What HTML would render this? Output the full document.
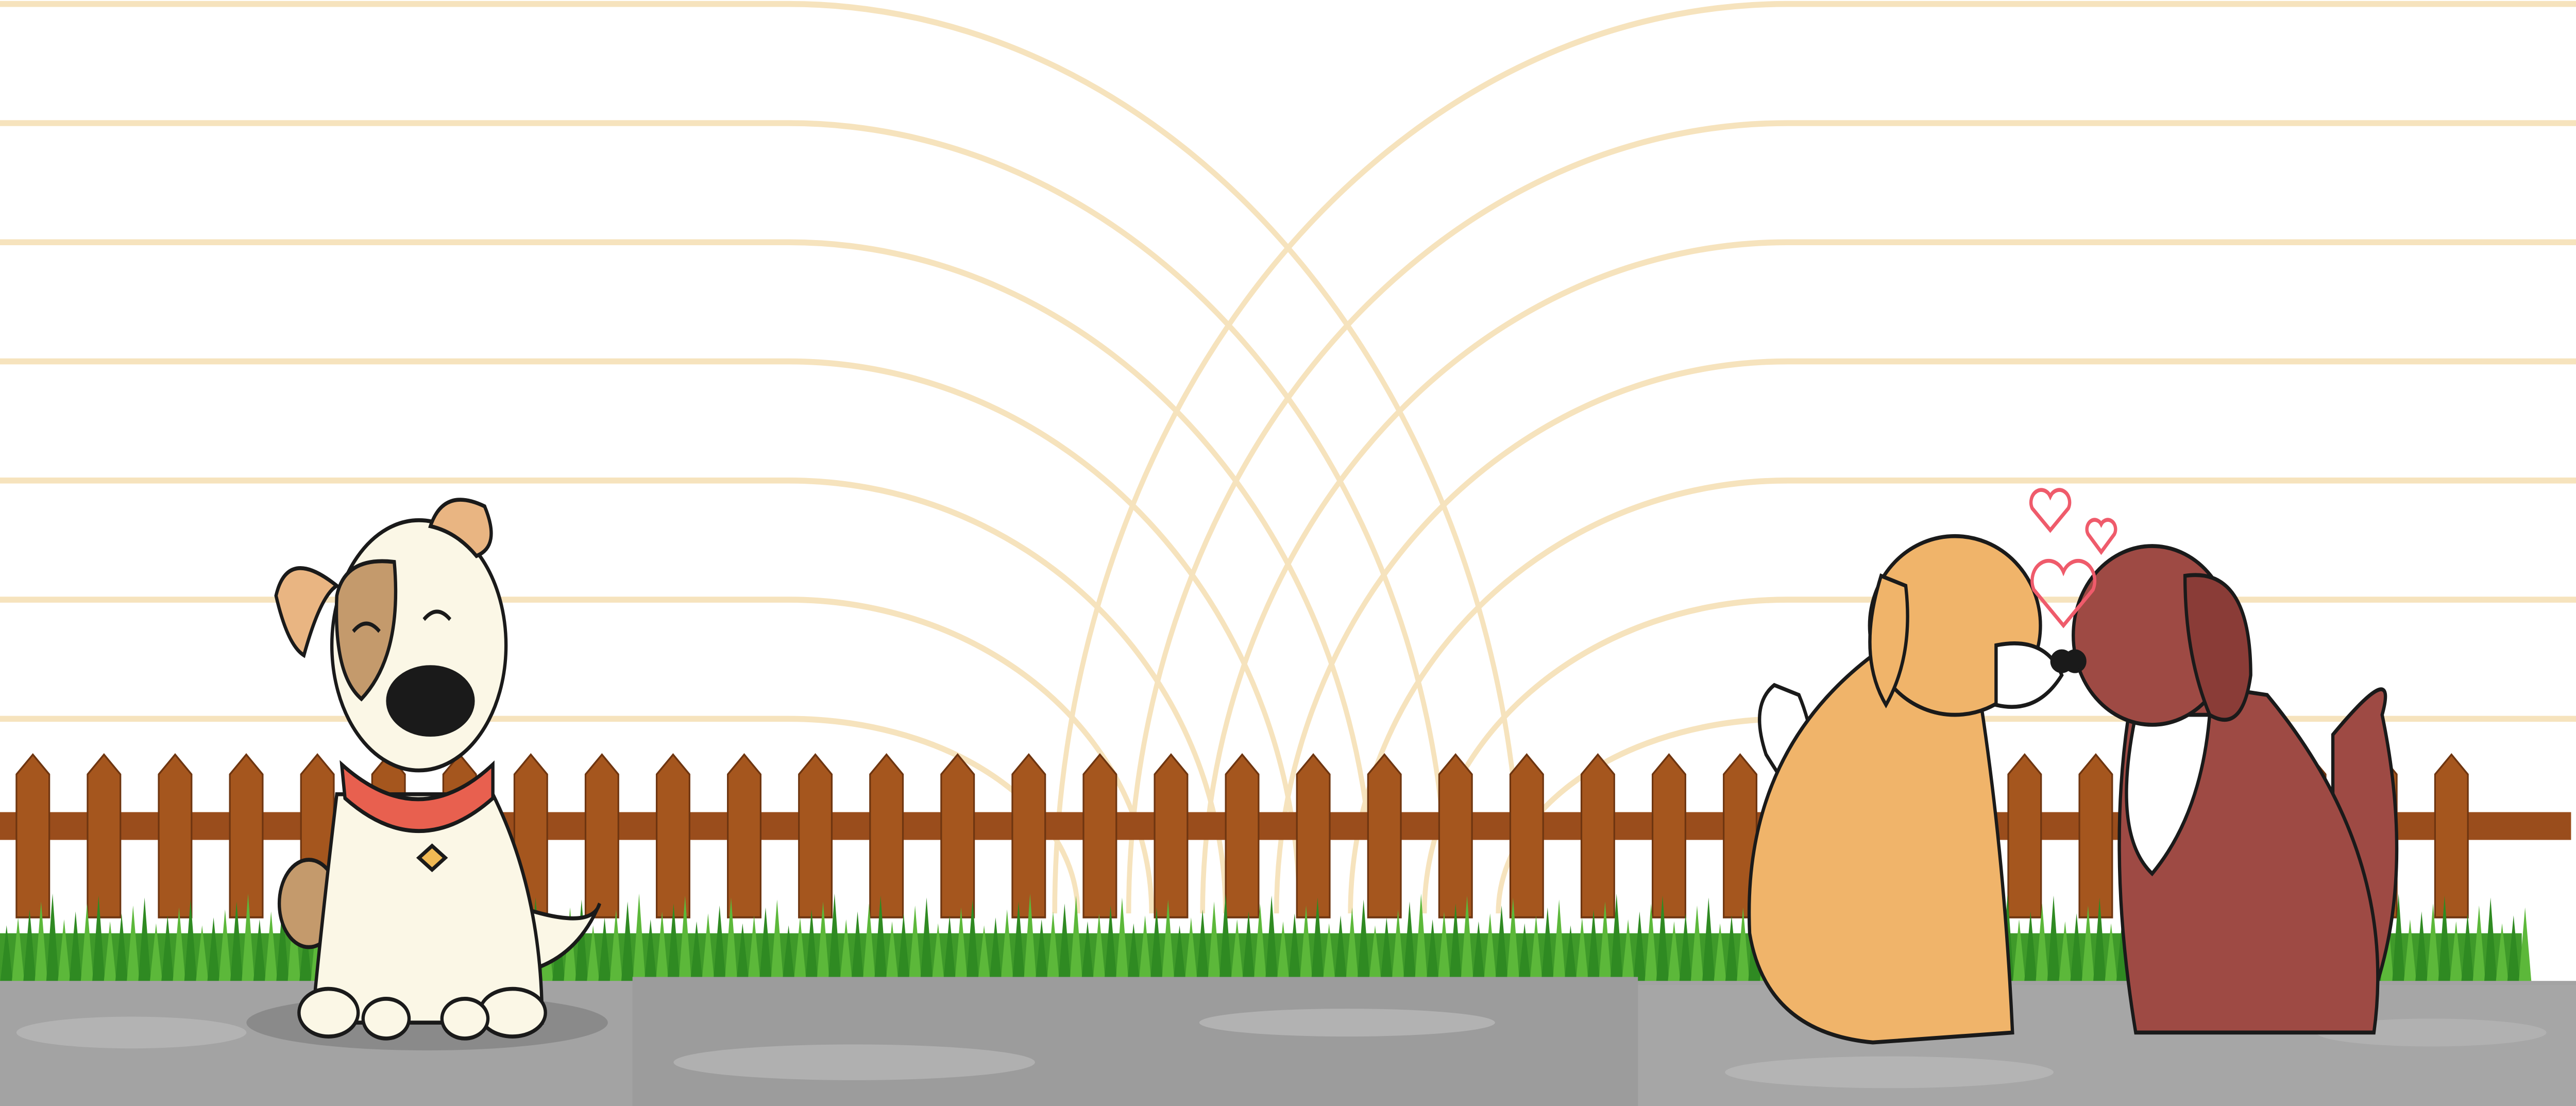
<!DOCTYPE html>
<html><head><meta charset="utf-8">
<style>
html,body{margin:0;padding:0;background:#fff;overflow:hidden;width:100%;height:100%}
svg{display:block;width:100vw;height:100vh}
</style></head>
<body>
<svg id="scene" viewBox="0 0 1568 557" preserveAspectRatio="none" xmlns="http://www.w3.org/2000/svg">
  <rect x="0" y="0" width="1568" height="557" fill="#ffffff"/>
  <g id="arcs" fill="none" stroke="#f6e3bd" stroke-width="3"></g>
  <g id="fence"></g>
  <g id="grass"></g>
  <g>
    <rect x="0" y="494" width="1568" height="63" fill="#a3a3a3"/>
    <rect x="385" y="492" width="612" height="65" fill="#9c9c9c"/>
    <rect x="997" y="496" width="571" height="61" fill="#a6a6a6"/>
    <ellipse cx="80" cy="520" rx="70" ry="8" fill="#b3b3b3"/>
    <ellipse cx="520" cy="535" rx="110" ry="9" fill="#b0b0b0"/>
    <ellipse cx="820" cy="515" rx="90" ry="7" fill="#b2b2b2"/>
    <ellipse cx="1150" cy="540" rx="100" ry="8" fill="#b4b4b4"/>
    <ellipse cx="1480" cy="520" rx="70" ry="7" fill="#b1b1b1"/>
    <ellipse cx="260" cy="515" rx="110" ry="14" fill="#8a8a8a"/>
  </g>
  <g stroke="#1a1a1a" stroke-width="2">
    <path d="M310 455 Q360 470 365 455 Q350 485 315 490 Z" fill="#fbf7e6"/>
    <ellipse cx="188" cy="455" rx="18" ry="22" fill="#c49a6c"/>
    <path d="M205 400 Q195 470 190 515 L330 515 Q330 450 300 400 Z" fill="#fbf7e6"/>
    <ellipse cx="200" cy="510" rx="18" ry="12" fill="#fbf7e6"/>
    <ellipse cx="312" cy="510" rx="20" ry="12" fill="#fbf7e6"/>
    <ellipse cx="235" cy="513" rx="14" ry="10" fill="#fbf7e6"/>
    <ellipse cx="283" cy="513" rx="14" ry="10" fill="#fbf7e6"/>
    <path d="M208 385 Q255 420 300 385 L300 402 Q255 435 210 402 Z" fill="#e8604f"/>
    <path d="M255 432 l8 -6 8 6 -8 6 Z" fill="#f0b954"/>
    <ellipse cx="255" cy="325" rx="53" ry="63" fill="#fbf7e6"/>
    <path d="M205 300 Q210 280 240 283 Q245 330 220 352 Q203 340 205 300 Z" fill="#c49a6c"/>
    <path d="M205 295 Q175 275 168 300 Q175 325 185 330 Q195 300 205 295 Z" fill="#e9b582"/>
    <path d="M262 265 Q270 245 295 255 Q305 275 290 280 Q278 268 262 265 Z" fill="#e9b582"/>
    <ellipse cx="262" cy="353" rx="26" ry="17" fill="#1a1a1a"/>
    <path d="M215 318 q8 -8 16 0 M258 312 q8 -8 16 0" fill="none"/>
  </g>
  <g stroke="#1a1a1a" stroke-width="2">
    <path d="M1080 345 Q1065 355 1075 380 Q1090 400 1100 410 Q1110 380 1095 350 Z" fill="#ffffff"/>
    <path d="M1140 330 Q1060 380 1065 470 Q1075 520 1140 525 L1225 520 Q1220 430 1205 350 Z" fill="#f0b46a"/>
    <ellipse cx="1190" cy="315" rx="52" ry="45" fill="#f0b46a"/>
    <path d="M1145 290 Q1130 330 1148 355 Q1165 330 1160 295 Z" fill="#f0b46a"/>
    <path d="M1215 325 Q1245 320 1255 340 Q1240 360 1215 355 Z" fill="#ffffff"/>
    <ellipse cx="1255" cy="333" rx="6" ry="5" fill="#1a1a1a"/>
  </g>
  <g stroke="#1a1a1a" stroke-width="2">
    <path d="M1420 370 Q1460 330 1450 360 Q1470 440 1445 500 L1420 500 Z" fill="#9e4a44"/>
    <path d="M1300 340 Q1280 420 1300 520 L1445 520 Q1460 430 1380 350 Z" fill="#9e4a44"/>
    <path d="M1300 360 Q1285 420 1310 440 Q1340 410 1345 360 Z" fill="#ffffff"/>
    <ellipse cx="1310" cy="320" rx="48" ry="45" fill="#9e4a44"/>
    <path d="M1330 290 Q1370 285 1370 340 Q1365 370 1345 360 Q1330 330 1330 290 Z" fill="#8a3c37"/>
    <ellipse cx="1263" cy="333" rx="6" ry="5" fill="#1a1a1a"/>
  </g>
  <g fill="none" stroke="#ef5b6b" stroke-width="2">
    <path d="M1256 315 l-18 -18 a8 8 0 0 1 18 -9 a8 8 0 0 1 18 9 Z"/>
    <path d="M1248 267 l-11 -11 a5 5 0 0 1 11 -6 a5 5 0 0 1 11 6 Z"/>
    <path d="M1279 278 l-8 -9 a4 4 0 0 1 8 -5 a4 4 0 0 1 8 5 Z"/>
  </g>
</svg>
<script>
const NS='http://www.w3.org/2000/svg';
const lineYs=[2,62,122,182,242,302,362];
const arcs=document.getElementById('arcs');
lineYs.forEach((y0,i)=>{
  const xs=480, rx=446-45*i, ry=460-y0;
  [0,1].forEach(side=>{
    const p=document.createElementNS(NS,'path');
    let d;
    if(side===0) d=`M0 ${y0} H${xs} A${rx} ${ry} 0 0 1 ${xs+rx} 460`;
    else d=`M1568 ${y0} H${1568-xs} A${rx} ${ry} 0 0 0 ${1568-xs-rx} 460`;
    p.setAttribute('d',d);
    
    
    arcs.appendChild(p);
  });
});
const fence=document.getElementById('fence');
const rail=document.createElementNS(NS,'rect');
rail.setAttribute('x','0');rail.setAttribute('y','409');rail.setAttribute('width','1565');rail.setAttribute('height','14');
rail.setAttribute('fill','#9a4d1c');


fence.appendChild(rail);
for(let x=10;x<1520;x+=43.3){
  const p=document.createElementNS(NS,'path');
  p.setAttribute('d',`M${x} 390 L${x+10} 380 L${x+20} 390 L${x+20} 462 L${x} 462 Z`);
  p.setAttribute('fill','#a5561e');
  p.setAttribute('stroke','#6e3510');
  p.setAttribute('stroke-width','1');
  
  
  fence.appendChild(p);
}
const grass=document.getElementById('grass');
const g0=document.createElementNS(NS,'rect');
g0.setAttribute('x','0');g0.setAttribute('y','470');g0.setAttribute('width','1535');g0.setAttribute('height','26');g0.setAttribute('fill','#3f9a2a');


grass.appendChild(g0);
for(let x=0;x<1535;x+=7){
  const h=30+((x*37)%17);
  const b=document.createElementNS(NS,'path');
  b.setAttribute('d',`M${x} 496 L${x+4} ${496-h} L${x+8} 496 Z`);
  b.setAttribute('fill',(x/7)%2?'#5cb83a':'#2f8a22');
  
  
  grass.appendChild(b);
}
</script>
</body></html>
